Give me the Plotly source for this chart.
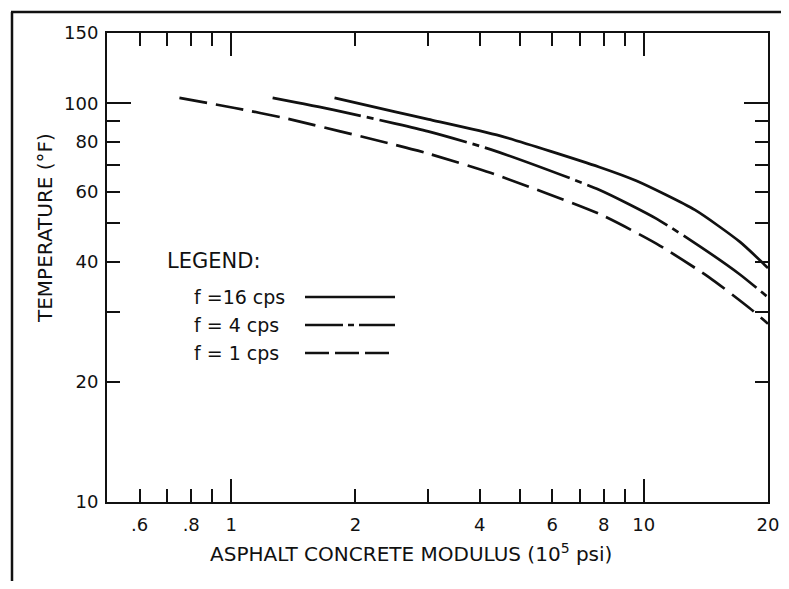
import math
import plotly.graph_objects as go

# ---- data ----
series_names = ["f =16 cps", "f = 4 cps", "f = 1 cps"]

x_16 = [1.78, 2.50, 3.01, 4.49, 7.79, 9.62, 13.3, 17.1, 20.0]
y_16 = [103.1, 95.1, 91.1, 82.8, 69.2, 63.8, 54.0, 44.9, 38.6]

x_4 = [1.26, 1.77, 2.50, 3.00, 4.25, 7.79, 10.75, 13.7, 17.1, 20.0]
y_4 = [103.1, 96.2, 88.9, 85.0, 76.6, 60.7, 51.3, 43.7, 37.2, 32.6]

x_1 = [0.749, 1.02, 1.34, 2.50, 3.00, 4.25, 7.79, 10.75, 14.4, 18.0, 20.0]
y_1 = [103.1, 97.3, 91.9, 78.6, 74.8, 66.9, 52.8, 44.4, 36.6, 30.7, 28.0]

x_tick_vals = [0.6, 0.7, 0.8, 0.9, 1, 2, 3, 4, 5, 6, 7, 8, 9, 10, 20]
x_tick_text = [".6", "", ".8", "", "1", "2", "", "4", "", "6", "", "8", "", "10", "20"]
x_long_ticks = [1, 10]

y_tick_vals = [10, 20, 30, 40, 50, 60, 70, 80, 90, 100, 150]
y_tick_text = ["10", "20", "", "40", "", "60", "", "80", "", "100", "150"]
y_long_ticks = [100]

x_range = [0.5, 20]
y_range = [10, 150]

# ---- styling ----
FONT = "DejaVu Sans"
BLACK = "#111111"
dashes = ["solid", "90px,6px,7px,6px", "28px,9px"]
legend_dashes = ["solid", "38px,5px,6px,5px", "24px,6px"]

PAGE_OFF = 8            # default body margin of the html page
W, H = 773, 573
L, R, T, B = 99, 13, 25, 79
pw, ph = W - L - R, H - T - B


def fx(px):  # reference-image pixel -> paper x
    return (px - PAGE_OFF - L) / pw


def fy(py):  # reference-image pixel -> paper y
    return (H - B - (py - PAGE_OFF)) / ph


fig = go.Figure()
for xs, ys, name, d in zip([x_16, x_4, x_1], [y_16, y_4, y_1], series_names, dashes):
    fig.add_trace(go.Scatter(
        x=xs, y=ys, mode="lines", name=name,
        line=dict(color=BLACK, width=2.7, dash=d, shape="spline", smoothing=0.6),
        showlegend=False, hoverinfo="skip",
    ))

# empty trace that hosts the overlay axes carrying the long ticks
fig.add_trace(go.Scatter(x=[], y=[], xaxis="x2", yaxis="y2", showlegend=False,
                         hoverinfo="skip"))

lx = [math.log10(v) for v in x_range]
ly = [math.log10(v) for v in y_range]

common = dict(showgrid=False, zeroline=False, ticks="inside", tickcolor=BLACK,
              tickwidth=2, mirror="ticks", automargin=False)

fig.update_layout(
    width=W, height=H, autosize=False,
    margin=dict(l=L, r=R, t=T, b=B, autoexpand=False),
    paper_bgcolor="white", plot_bgcolor="white",
    font=dict(family=FONT, color=BLACK, size=18),
    xaxis=dict(type="log", range=lx, tickmode="array", tickvals=x_tick_vals,
               ticktext=x_tick_text, ticklen=13, showline=True, linecolor=BLACK,
               linewidth=2, tickfont=dict(size=18), ticklabelstandoff=5, **common),
    yaxis=dict(type="log", range=ly, tickmode="array", tickvals=y_tick_vals,
               ticktext=y_tick_text, ticklen=13, showline=True, linecolor=BLACK,
               linewidth=2, tickfont=dict(size=18), ticklabelstandoff=3, **common),
    xaxis2=dict(type="log", range=lx, overlaying="x", anchor="y2", side="bottom",
                tickmode="array", tickvals=x_long_ticks, ticklen=23,
                showticklabels=False, showline=False, **common),
    yaxis2=dict(type="log", range=ly, overlaying="y", anchor="x2", side="left",
                tickmode="array", tickvals=y_long_ticks, ticklen=24,
                showticklabels=False, showline=False, **common),
)

annotations = [
    dict(text="ASPHALT CONCRETE MODULUS (10<sup>5</sup> psi)", xref="paper", yref="paper",
         x=fx(411), y=fy(553), showarrow=False,
         xanchor="center", yanchor="middle", font=dict(size=20)),
    dict(text="TEMPERATURE (°F)", xref="paper", yref="paper", textangle=-90,
         x=fx(45), y=fy(228), showarrow=False,
         xanchor="center", yanchor="middle", font=dict(size=20)),
    dict(text="LEGEND:", xref="paper", yref="paper", x=fx(165),
         y=fy(261), showarrow=False, xanchor="left", yanchor="middle",
         font=dict(size=21)),
]
shapes = []
legend_rows = [297, 325, 353]
for name, d, row in zip(series_names, legend_dashes, legend_rows):
    annotations.append(dict(text=name, xref="paper", yref="paper", x=fx(192),
                            y=fy(row), showarrow=False, xanchor="left",
                            yanchor="middle", font=dict(size=19)))
    shapes.append(dict(type="line", xref="paper", yref="paper",
                       x0=fx(305), x1=fx(395), y0=fy(row), y1=fy(row),
                       line=dict(color=BLACK, width=2.7, dash=d)))

# outer frame of the scanned figure (top and left edges)
shapes.append(dict(type="line", xref="paper", yref="paper",
                   x0=fx(11), x1=fx(795), y0=fy(12), y1=fy(12),
                   line=dict(color=BLACK, width=2.5)))
shapes.append(dict(type="line", xref="paper", yref="paper",
                   x0=fx(12), x1=fx(12), y0=fy(12), y1=fy(595),
                   line=dict(color=BLACK, width=2.5)))

fig.update_layout(annotations=annotations, shapes=shapes)

fig.write_html("out.html")
